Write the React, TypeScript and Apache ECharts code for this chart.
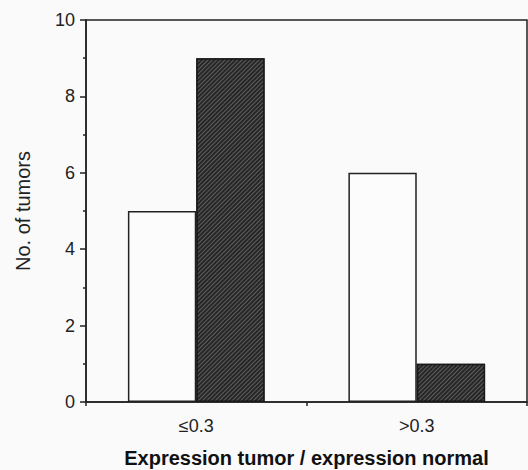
import React, { useEffect, useRef } from "react";
import * as echarts from "echarts";

const categories = ["≤0.3", ">0.3"];
const openValues = [5, 6];
const hatchedValues = [9, 1];
const yTicks = [0, 2, 4, 6, 8, 10];

export default function App() {
  const ref = useRef<HTMLDivElement>(null);
  useEffect(() => {
    if (!ref.current) return;
    const chart = echarts.init(ref.current, null, { renderer: "svg" });
    const font = "'Liberation Sans', Arial, Helvetica, sans-serif";
    chart.setOption({
      animation: false,
      backgroundColor: "#fafafa",
      grid: {
        left: 86,
        right: 1,
        top: 20,
        bottom: 68,
        outerBoundsMode: "none",
        containLabel: false,
        show: true,
        borderColor: "#222",
        borderWidth: 1.5,
        backgroundColor: "transparent",
      },
      xAxis: {
        type: "category",
        data: categories,
        name: "Expression tumor / expression normal",
        nameLocation: "middle",
        nameGap: 46,
        nameTextStyle: { fontFamily: font, fontSize: 20, fontWeight: "bold", color: "#111" },
        axisLine: { lineStyle: { color: "#222", width: 1.5 } },
        axisTick: { show: true, length: 4, lineStyle: { color: "#222", width: 1.5 } },
        axisLabel: { fontFamily: font, fontSize: 18, color: "#222", margin: 15 },
      },
      yAxis: {
        type: "value",
        min: yTicks[0],
        max: yTicks[yTicks.length - 1],
        interval: 2,
        name: "No. of tumors",
        nameLocation: "middle",
        nameGap: 53,
        nameRotate: 90,
        nameTextStyle: { fontFamily: font, fontSize: 20, color: "#222" },
        axisLine: { show: true, lineStyle: { color: "#222", width: 1.5 } },
        axisTick: { show: true, length: 6, lineStyle: { color: "#222", width: 1.5 } },
        minorTick: { show: true, splitNumber: 2, length: 3, lineStyle: { color: "#222", width: 1.5 } },
        splitLine: { show: false },
        axisLabel: { fontFamily: font, fontSize: 18, color: "#222", margin: 11 },
      },
      series: [
        {
          name: "Open",
          type: "bar",
          data: openValues,
          barGap: "0%",
          barCategoryGap: "38%",
          itemStyle: { color: "#fcfcfc", borderColor: "#222", borderWidth: 1.5 },
        },
        {
          name: "Hatched",
          type: "bar",
          data: hatchedValues,
          barGap: "0%",
          barCategoryGap: "38%",
          itemStyle: {
            color: "#262626",
            borderColor: "#1a1a1a",
            borderWidth: 1.5,
            decal: {
              symbol: "rect",
              symbolSize: 1,
              dashArrayX: [1, 0],
              dashArrayY: [1, 2],
              rotation: -Math.PI / 4,
              color: "rgba(130,130,130,0.6)",
            },
          },
        },
      ],
    });
    return () => chart.dispose();
  }, []);
  return (
    <div
      ref={ref}
      style={{ position: "fixed", left: 0, top: 0, width: 528, height: 470 }}
    />
  );
}
